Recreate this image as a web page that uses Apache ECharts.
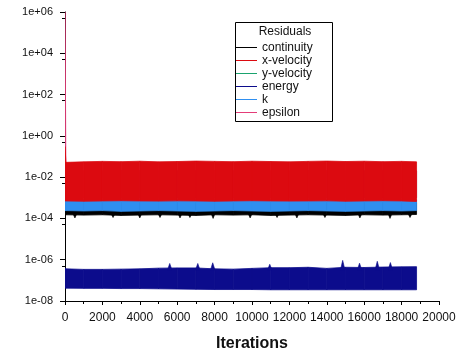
<!DOCTYPE html>
<html>
<head>
<meta charset="utf-8">
<script src="https://cdn.jsdelivr.net/npm/echarts/dist/echarts.min.js"></script>
<style>
html,body{margin:0;padding:0;background:#fff;}
#chart{width:462px;height:357px;}
</style>
</head>
<body>
<div id="chart"></div>
<script>
// ---- data ----
const iterations = [0, 50, 1000, 2000, 3000, 4000, 5000, 6000, 7000, 8000, 9000, 10000, 11000, 12000, 13000, 14000, 15000, 16000, 17000, 18000, 18800];

const continuityHigh = [6e-4, 6e-4, 6e-4, 6e-4, 6e-4, 6e-4, 6e-4, 6e-4, 6e-4, 6e-4, 6e-4, 6e-4, 6e-4, 6e-4, 6e-4, 6e-4, 6e-4, 6e-4, 6e-4, 6e-4, 6e-4];
const continuityLow = [1.5e-4, 1.5e-4, 1.45e-4, 1.5e-4, 1.4e-4, 1.45e-4, 1.5e-4, 1.45e-4, 1.4e-4, 1.5e-4, 1.45e-4, 1.5e-4, 1.4e-4, 1.45e-4, 1.5e-4, 1.45e-4, 1.4e-4, 1.5e-4, 1.45e-4, 1.5e-4, 1.55e-4];

const xVelocityHigh = [0.3, 0.052, 0.055, 0.058, 0.056, 0.059, 0.055, 0.057, 0.06, 0.058, 0.056, 0.059, 0.057, 0.055, 0.058, 0.06, 0.057, 0.059, 0.056, 0.058, 0.055];
const xVelocityLow = [7e-4, 7e-4, 6.8e-4, 7e-4, 7.2e-4, 7e-4, 6.9e-4, 7.1e-4, 7e-4, 6.8e-4, 7e-4, 7.2e-4, 7e-4, 6.9e-4, 7e-4, 7.1e-4, 6.8e-4, 7e-4, 7.2e-4, 7e-4, 6.6e-4];

const yVelocityHigh = [0.02, 0.02, 0.02, 0.02, 0.02, 0.02, 0.02, 0.02, 0.02, 0.02, 0.02, 0.02, 0.02, 0.02, 0.02, 0.02, 0.02, 0.02, 0.02, 0.02, 0.02];
const yVelocityLow = [1e-3, 1e-3, 1e-3, 1e-3, 1e-3, 1e-3, 1e-3, 1e-3, 1e-3, 1e-3, 1e-3, 1e-3, 1e-3, 1e-3, 1e-3, 1e-3, 1e-3, 1e-3, 1e-3, 1e-3, 1e-3];

const energyHigh = [3.9e-7, 3.6e-7, 3.4e-7, 3.4e-7, 3.5e-7, 3.6e-7, 3.9e-7, 4.0e-7, 4.0e-7, 3.6e-7, 3.5e-7, 3.8e-7, 4.1e-7, 4.1e-7, 4.3e-7, 3.8e-7, 4.3e-7, 4.2e-7, 4.4e-7, 4.5e-7, 4.6e-7];
const energyLow = [4.2e-8, 4.2e-8, 4.1e-8, 4.1e-8, 4.0e-8, 4.0e-8, 3.9e-8, 3.8e-8, 3.7e-8, 3.6e-8, 3.6e-8, 3.6e-8, 3.5e-8, 3.5e-8, 3.5e-8, 3.5e-8, 3.5e-8, 3.5e-8, 3.5e-8, 3.5e-8, 3.5e-8];

const kHigh = [0.8, 8e-4, 8e-4, 8e-4, 8e-4, 8e-4, 8e-4, 8e-4, 8e-4, 8e-4, 8e-4, 8e-4, 8e-4, 8e-4, 8e-4, 8e-4, 8e-4, 8e-4, 8e-4, 8e-4, 8e-4];
const kLow = [2.4e-4, 2.4e-4, 2.3e-4, 2.4e-4, 2.2e-4, 2.3e-4, 2.4e-4, 2.3e-4, 2.2e-4, 2.3e-4, 2.4e-4, 2.3e-4, 2.2e-4, 2.3e-4, 2.4e-4, 2.3e-4, 2.2e-4, 2.3e-4, 2.4e-4, 2.3e-4, 2.4e-4];

const epsilonHigh = [1e6, 0.02, 0.02, 0.02, 0.02, 0.02, 0.02, 0.02, 0.02, 0.02, 0.02, 0.02, 0.02, 0.02, 0.02, 0.02, 0.02, 0.02, 0.02, 0.02, 0.02];
const epsilonLow = [1, 1e-3, 1e-3, 1e-3, 1e-3, 1e-3, 1e-3, 1e-3, 1e-3, 1e-3, 1e-3, 1e-3, 1e-3, 1e-3, 1e-3, 1e-3, 1e-3, 1e-3, 1e-3, 1e-3, 1e-3];

// [iteration, peak value]
const energySpikes = [[5600, 6.6e-7], [7100, 6.6e-7], [7900, 7.1e-7], [10950, 6.0e-7], [14850, 9.3e-7], [15750, 6.8e-7], [16700, 8.4e-7], [17400, 7.3e-7]];
const continuityDips = [[530, 1.05e-4], [2570, 1.1e-4], [4000, 1.05e-4], [5080, 1.1e-4], [6150, 1.05e-4], [6680, 1.1e-4], [7920, 1.0e-4], [9900, 1.05e-4], [11340, 1.1e-4], [12400, 1.05e-4], [13900, 1.1e-4], [15770, 1.05e-4], [17380, 1.0e-4], [18450, 1.1e-4]];

const xTicks = [0, 2000, 4000, 6000, 8000, 10000, 12000, 14000, 16000, 18000, 20000];
const legendNames = ['continuity', 'x-velocity', 'y-velocity', 'energy', 'k', 'epsilon'];

// ---- chart ----
const FONT = '"Liberation Sans", Arial, sans-serif';
const colors = {
  'continuity': '#000000',
  'x-velocity': '#dc0a10',
  'y-velocity': '#1aa36e',
  'energy': '#0c0c8c',
  'k': '#2f8ff0',
  'epsilon': '#e43c78'
};

function bandData(lo, hi) {
  const out = [];
  for (let i = 0; i < iterations.length - 1; i++) {
    out.push([iterations[i], lo[i], hi[i], iterations[i + 1], lo[i + 1], hi[i + 1]]);
  }
  return out;
}

function bandSeries(name, lo, hi) {
  return {
    name: name,
    type: 'custom',
    clip: true,
    itemStyle: { color: colors[name] },
    encode: { x: [0, 3], y: [1, 2, 4, 5] },
    data: bandData(lo, hi),
    renderItem: function (params, api) {
      const a = api.coord([api.value(0), api.value(2)]);
      const b = api.coord([api.value(3), api.value(5)]);
      const c = api.coord([api.value(3), api.value(4)]);
      const d = api.coord([api.value(0), api.value(1)]);
      return {
        type: 'polygon',
        shape: { points: [a, b, c, d] },
        style: { fill: colors[name], stroke: colors[name], lineWidth: 0.8 }
      };
    }
  };
}

function spikeSeries(name, arr, base, halfWidth) {
  return {
    name: name,
    type: 'custom',
    clip: true,
    itemStyle: { color: colors[name] },
    data: arr,
    renderItem: function (params, api) {
      const it = api.value(0);
      const p = api.coord([it, api.value(1)]);
      const l = api.coord([it - halfWidth, base]);
      const r = api.coord([it + halfWidth, base]);
      return {
        type: 'polygon',
        shape: { points: [l, p, r] },
        style: { fill: colors[name], stroke: colors[name], lineWidth: 0.6 }
      };
    }
  };
}

function fmtExp(v) {
  const e = Math.round(Math.log10(v));
  const s = e < 0 ? '-' : '+';
  const a = Math.abs(e);
  return '1e' + s + (a < 10 ? '0' + a : '' + a);
}

const chart = echarts.init(document.getElementById('chart'), null, { renderer: 'canvas' });

chart.setOption({
  backgroundColor: '#ffffff',
  animation: false,
  grid: { left: 65, right: 23, top: 12, bottom: 54 },
  xAxis: {
    type: 'value',
    min: xTicks[0],
    max: xTicks[xTicks.length - 1],
    interval: xTicks[1] - xTicks[0],
    name: 'Iterations',
    nameLocation: 'middle',
    nameGap: 35,
    nameTextStyle: { fontFamily: FONT, fontSize: 16, fontWeight: 'bold', color: '#111' },
    axisLine: { show: true, lineStyle: { color: '#000', width: 1 } },
    axisTick: { show: true, length: 4, lineStyle: { color: '#000' } },
    minorTick: { show: true, splitNumber: 2, length: 3, lineStyle: { color: '#000' } },
    splitLine: { show: false },
    axisLabel: { fontFamily: FONT, fontSize: 12, color: '#111', margin: 11, formatter: function (v) { return String(v); } }
  },
  yAxis: {
    type: 'log',
    logBase: 10,
    min: 1e-8,
    max: 1e6,
    interval: 2,
    axisLine: { show: true, lineStyle: { color: '#000', width: 1 } },
    axisTick: { show: true, length: 5, lineStyle: { color: '#000' } },
    minorTick: { show: true, splitNumber: 2, length: 3, lineStyle: { color: '#000' } },
    splitLine: { show: false },
    axisLabel: { fontFamily: FONT, fontSize: 11, color: '#111', margin: 12, formatter: fmtExp }
  },
  legend: {
    orient: 'vertical',
    left: 235,
    top: 41,
    padding: 0,
    itemGap: 0,
    itemWidth: 22,
    itemHeight: 1,
    icon: 'rect',
    data: legendNames,
    selectedMode: false,
    textStyle: { fontFamily: FONT, fontSize: 12, color: '#111', lineHeight: 13 }
  },
  graphic: [
    {
      type: 'rect',
      shape: { x: 235.5, y: 22.5, width: 97, height: 99 },
      style: { fill: 'none', stroke: '#000', lineWidth: 1 },
      z: 10
    },
    {
      type: 'text',
      x: 285,
      y: 32,
      style: { text: 'Residuals', fontFamily: FONT, fontSize: 12, fill: '#111', align: 'center', verticalAlign: 'middle' },
      z: 10
    }
  ],
  series: [
    bandSeries('continuity', continuityLow, continuityHigh),
    spikeSeries('continuity', continuityDips, 1.6e-4, 90),
    bandSeries('y-velocity', yVelocityLow, yVelocityHigh),
    bandSeries('energy', energyLow, energyHigh),
    spikeSeries('energy', energySpikes, 3.2e-7, 120),
    bandSeries('k', kLow, kHigh),
    bandSeries('epsilon', epsilonLow, epsilonHigh),
    bandSeries('x-velocity', xVelocityLow, xVelocityHigh)
  ]
});
</script>
</body>
</html>
